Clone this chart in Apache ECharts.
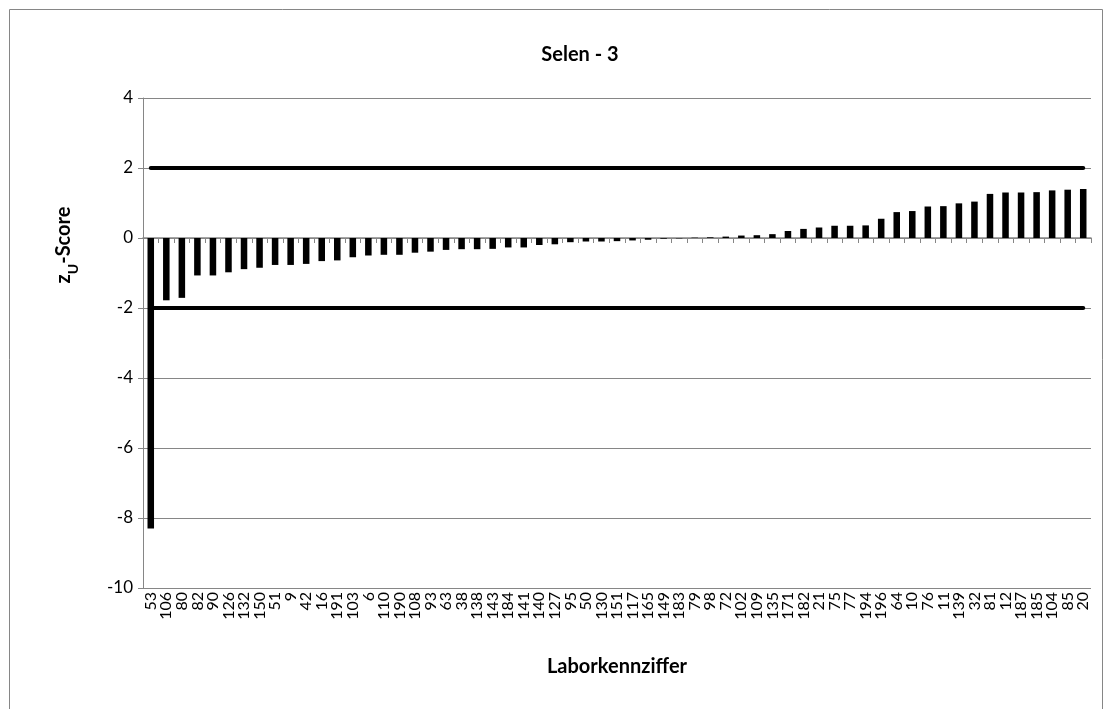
<!DOCTYPE html>
<html>
<head>
<meta charset="utf-8">
<script src="https://cdn.jsdelivr.net/npm/echarts@6/dist/echarts.min.js"></script>
<style>
html,body{margin:0;padding:0;background:#fff;}
#chart{width:1111px;height:709px;}
</style>
</head>
<body>
<div id="chart"></div>
<script>
const chartTitle = 'Selen - 3';
const xAxisTitle = 'Laborkennziffer';
const categories = ['53','106','80','82','90','126','132','150','51','9','42','16','191','103','6','110','190','108','93','63','38','138','143','184','141','140','127','95','50','130','151','117','165','149','183','79','98','72','102','109','135','171','182','21','75','77','194','196','64','10','76','11','139','32','81','12','187','185','104','85','20'];
const zScores = [-8.3,-1.78,-1.71,-1.07,-1.07,-0.98,-0.89,-0.85,-0.77,-0.77,-0.74,-0.66,-0.64,-0.55,-0.50,-0.48,-0.48,-0.42,-0.39,-0.34,-0.32,-0.32,-0.31,-0.27,-0.27,-0.20,-0.18,-0.12,-0.10,-0.10,-0.09,-0.07,-0.05,-0.02,-0.01,0.01,0.02,0.04,0.07,0.08,0.11,0.20,0.26,0.30,0.35,0.35,0.36,0.55,0.74,0.77,0.90,0.91,0.99,1.04,1.26,1.30,1.30,1.31,1.36,1.38,1.40];
const limitValues = [2, -2];
const yTicks = [-10, -8, -6, -4, -2, 0, 2, 4];

const FONT = 'Lato, "Open Sans", sans-serif';
const GRAY = '#868686';
const chart = echarts.init(document.getElementById('chart'), null, {renderer: 'canvas'});

const firstCat = categories[0];
const lastCat = categories[categories.length - 1];

chart.setOption({
  animation: false,
  backgroundColor: '#fff',
  title: {
    text: chartTitle,
    left: 575, top: 40, textAlign: 'center',
    textStyle: {fontFamily: FONT, fontWeight: 'bold', fontSize: 20, color: '#000'}
  },
  graphic: [
    {type: 'rect', shape: {x: 9.5, y: 9.5, width: 1093, height: 720}, style: {fill: 'none', stroke: GRAY, lineWidth: 1}, silent: true, z: -10},
    {type: 'text', x: 62, y: 245, rotation: Math.PI / 2,
     style: {text: '{a|z}{s|U}{a|-Score}', align: 'center', verticalAlign: 'middle',
       rich: {
         a: {fontFamily: FONT, fontWeight: 'bold', fontSize: 20, color: '#000', lineHeight: 24, verticalAlign: 'bottom'},
         s: {fontFamily: FONT, fontWeight: 'bold', fontSize: 14, color: '#000', lineHeight: 24, verticalAlign: 'bottom', padding: [0, 0, -6, 0]}
       }}}
  ],
  grid: {left: 143, right: 20, top: 98, bottom: 121, containLabel: false},
  xAxis: [
    {
      type: 'category', data: categories, position: 'bottom',
      axisLine: {show: true, onZero: true, lineStyle: {color: GRAY, width: 1.5}},
      axisTick: {show: true, inside: false, length: 5, alignWithLabel: false, interval: 0, lineStyle: {color: GRAY}},
      axisLabel: {show: false},
      splitLine: {show: false}
    },
    {
      type: 'category', data: categories, position: 'bottom',
      axisLine: {show: false, onZero: false},
      axisTick: {show: false},
      axisLabel: {show: true, interval: 0, rotate: 90, fontFamily: FONT, fontSize: 16, color: '#000', margin: 4},
      name: xAxisTitle, nameLocation: 'middle', nameGap: 69,
      nameTextStyle: {fontFamily: FONT, fontWeight: 'bold', fontSize: 20, color: '#000'}
    }
  ],
  yAxis: {
    type: 'value', min: yTicks[0], max: yTicks[yTicks.length - 1], interval: 2,
    axisLine: {show: true, lineStyle: {color: GRAY}},
    axisTick: {show: true, length: 5, lineStyle: {color: GRAY}},
    axisLabel: {fontFamily: FONT, fontSize: 17, color: '#000', margin: 10},
    splitLine: {show: true, lineStyle: {color: GRAY, width: 1}}
  },
  series: [{
    type: 'bar', data: zScores, xAxisIndex: 0, barWidth: '42%',
    itemStyle: {color: '#000'},
    markLine: {
      silent: true, symbol: ['none', 'none'],
      label: {show: false},
      lineStyle: {color: '#000', width: 4, type: 'solid', cap: 'round'},
      emphasis: {disabled: true},
      data: limitValues.map(v => [{coord: [firstCat, v]}, {coord: [lastCat, v]}])
    }
  }]
});
</script>
</body>
</html>
